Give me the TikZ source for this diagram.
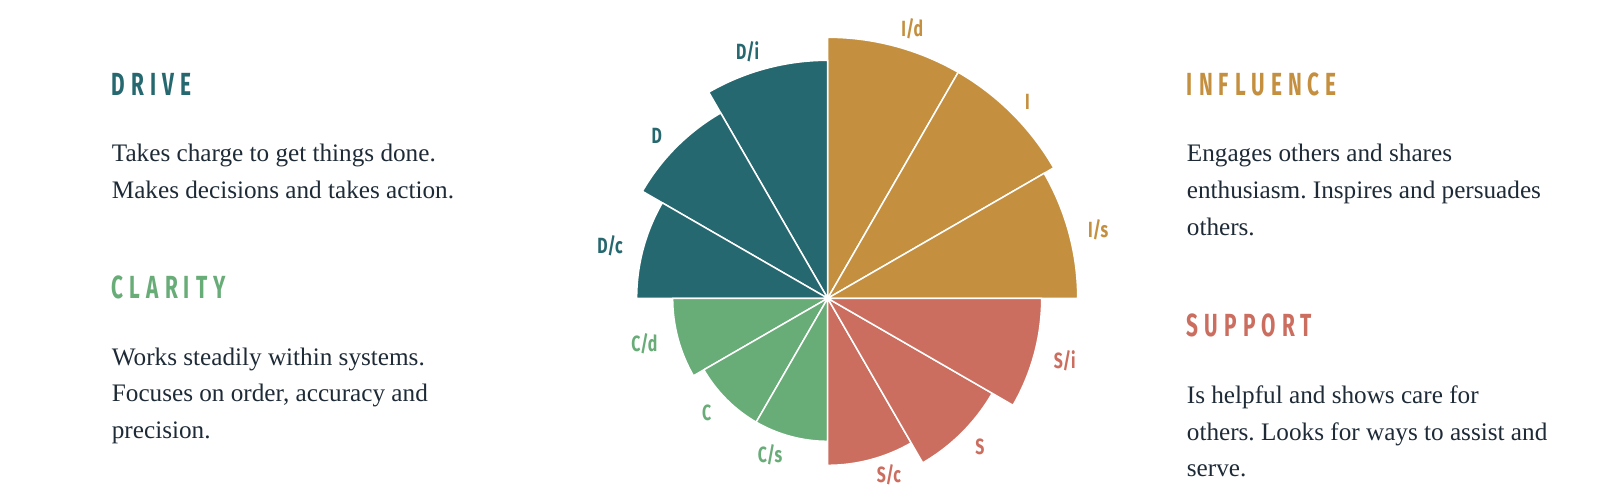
\documentclass[tikz,border=0pt]{standalone}
\usepackage{fontspec}
\setmainfont{Liberation Serif}
\newfontfamily\headfont[FakeStretch=0.65,LetterSpace=19]{Fira Sans}
\newfontfamily\tagfont[FakeStretch=0.72]{Fira Sans}
\usetikzlibrary{positioning}
\frenchspacing
\definecolor{drivecol}{HTML}{26686F}
\definecolor{infcol}{HTML}{C49040}
\definecolor{clarcol}{HTML}{68AC78}
\definecolor{suppcol}{HTML}{CC6E5F}
\definecolor{inkcol}{HTML}{1E2B37}
\tikzset{
  wedge/.style={draw=white, line width=1.5pt, line join=round},
  headline/.style={
    anchor=base west,
    inner sep=0pt,
    font=\headfont\bfseries\fontsize{32}{32}\selectfont},
  blurb/.style={
    anchor=base west,
    inner sep=0pt,
    align=left,
    text=inkcol,
    font=\fontsize{25.2}{36.7}\selectfont},
  tag/.style={
    inner sep=0pt,
    font=\tagfont\bfseries\fontsize{22}{22}\selectfont}
}

\begin{document}
\begin{tikzpicture}[x=1pt,y=1pt]
  \useasboundingbox (-827.7,-197.7) rectangle (774.3,298.3);

  % influence
  \filldraw[wedge, fill=infcol] (0,0) -- (60:261) arc[start angle=60, end angle=90, radius=261] -- cycle;
  \filldraw[wedge, fill=infcol] (0,0) -- (30:261) arc[start angle=30, end angle=60, radius=261] -- cycle;
  \filldraw[wedge, fill=infcol] (0,0) -- (0:250) arc[start angle=0, end angle=30, radius=250] -- cycle;
  % drive
  \filldraw[wedge, fill=drivecol] (0,0) -- (90:238) arc[start angle=90, end angle=120, radius=238] -- cycle;
  \filldraw[wedge, fill=drivecol] (0,0) -- (120:214) arc[start angle=120, end angle=150, radius=214] -- cycle;
  \filldraw[wedge, fill=drivecol] (0,0) -- (150:191) arc[start angle=150, end angle=180, radius=191] -- cycle;
  % clarity
  \filldraw[wedge, fill=clarcol] (0,0) -- (180:155) arc[start angle=180, end angle=210, radius=155] -- cycle;
  \filldraw[wedge, fill=clarcol] (0,0) -- (210:143) arc[start angle=210, end angle=240, radius=143] -- cycle;
  \filldraw[wedge, fill=clarcol] (0,0) -- (240:143) arc[start angle=240, end angle=270, radius=143] -- cycle;
  % support
  \filldraw[wedge, fill=suppcol] (0,0) -- (270:167) arc[start angle=270, end angle=300, radius=167] -- cycle;
  \filldraw[wedge, fill=suppcol] (0,0) -- (300:190) arc[start angle=300, end angle=330, radius=190] -- cycle;
  \filldraw[wedge, fill=suppcol] (0,0) -- (330:214) arc[start angle=330, end angle=360, radius=214] -- cycle;

  % sector tags
  \node[tag, text=infcol] (lid) at (72.6:282.7) {I/d};
  \node[tag, text=infcol] (li) at (44.5:280) {I};
  \node[tag, text=infcol] (lis) at (14.2:279) {I/s};
  \node[tag, text=drivecol] (ldi) at (108:259) {D/i};
  \node[tag, text=drivecol] (ld) at (136.5:235.8) {D};
  \node[tag, text=drivecol] (ldc) at (166.3:224) {D/c};
  \node[tag, text=clarcol] (lcd) at (194:189) {C/d};
  \node[tag, text=clarcol] (lc) at (223.5:167) {C};
  \node[tag, text=clarcol] (lcs) at (249.8:167) {C/s};
  \node[tag, text=suppcol] (lsc) at (289.1:187) {S/c};
  \node[tag, text=suppcol] (ls) at (315.6:213) {S};
  \node[tag, text=suppcol] (lsi) at (345.3:245) {S/i};

  % left column (blurb base = last line)
  \node[headline, text=drivecol] (drive) at (-716,203.3) {DRIVE};
  \node[blurb] (drivetxt) at ([yshift=-103.4pt]drive.base west)
    {Takes charge to get things done.\\Makes decisions and takes action.};
  \node[headline, text=clarcol] (clarity) at (-716,0) {CLARITY};
  \node[blurb] (claritytxt) at ([yshift=-140.1pt]clarity.base west)
    {Works steadily within systems.\\Focuses on order, accuracy and\\precision.};

  % right column
  \node[headline, text=infcol] (influence) at (359,203.3) {INFLUENCE};
  \node[blurb] (influencetxt) at ([yshift=-140.1pt]influence.base west)
    {Engages others and shares\\enthusiasm. Inspires and persuades\\others.};
  \node[headline, text=suppcol] (support) at (359,-38.4) {SUPPORT};
  \node[blurb] (supporttxt) at ([yshift=-140.1pt]support.base west)
    {Is helpful and shows care for\\others. Looks for ways to assist and\\serve.};
\end{tikzpicture}
\end{document}
